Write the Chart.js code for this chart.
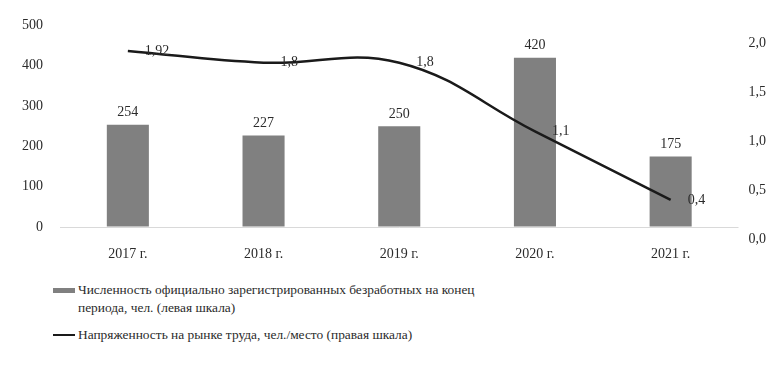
<!DOCTYPE html>
<html lang="ru">
<head>
<meta charset="utf-8">
<title>Безработица и напряженность на рынке труда</title>
<script src="https://cdn.jsdelivr.net/npm/chart.js@4/dist/chart.umd.min.js"></script>
<style>
    html, body { margin: 0; padding: 0; background: #fff; }
    #wrap { position: relative; width: 784px; height: 372px; overflow: hidden; }
    #chartBox { position: absolute; left: 0; top: 0; width: 784px; height: 278px; }
    #legend {
        position: absolute; left: 53px; top: 281px; width: 430px;
        font-family: "Liberation Serif", "DejaVu Serif", serif;
        font-size: 13.4px; line-height: 18px; color: #2b2b2b;
    }
    .item { display: flex; align-items: flex-start; margin-bottom: 9px; }
    .mark { flex: 0 0 22px; margin-top: 7px; margin-right: 3px; }
    .mark.bar { height: 5px; background: #808080; }
    .mark.line { height: 2px; margin-top: 8px; background: #1a1a1a; }
</style>
</head>
<body>
<div id="wrap">
    <div id="chartBox"><canvas id="unemploymentChart"></canvas></div>
    <div id="legend"></div>
</div>
<script>
    // Годы и значения
    const years = ['2017 г.', '2018 г.', '2019 г.', '2020 г.', '2021 г.'];
    const unemployed = [254, 227, 250, 420, 175];
    const tension = [1.92, 1.8, 1.8, 1.1, 0.4];
    const leftTicks = [0, 100, 200, 300, 400, 500];
    const rightTicks = [0, 0.5, 1.0, 1.5, 2.0];

    const barLabel = 'Численность официально зарегистрированных безработных на конец периода, чел. (левая шкала)';
    const lineLabel = 'Напряженность на рынке труда, чел./место (правая шкала)';

    const serif = '"Liberation Serif", "DejaVu Serif", serif';
    const textColor = '#2b2b2b';

    const fmt = v => String(v).replace('.', ',');

    // Подписи значений над столбцами и справа от точек линии
    const valueLabels = {
        id: 'valueLabels',
        afterDatasetsDraw(chart) {
            const ctx = chart.ctx;
            ctx.save();
            ctx.font = '14px ' + serif;
            ctx.fillStyle = textColor;

            chart.getDatasetMeta(1).data.forEach((el, i) => {
                ctx.textAlign = 'center';
                ctx.textBaseline = 'bottom';
                ctx.fillText(unemployed[i], el.x, el.y - 5);
            });

            chart.getDatasetMeta(0).data.forEach((el, i) => {
                ctx.textAlign = 'left';
                ctx.textBaseline = 'middle';
                ctx.fillText(fmt(tension[i]), el.x + 17, el.y);
            });
            ctx.restore();
        }
    };

    const ctx = document.getElementById('unemploymentChart').getContext('2d');
    new Chart(ctx, {
        data: {
            labels: years,
            datasets: [{
                type: 'line',
                label: lineLabel,
                data: tension,
                yAxisID: 'yRight',
                borderColor: '#1a1a1a',
                borderWidth: 2.5,
                pointRadius: 0,
                tension: 0.4,
                fill: false,
                order: 0
            }, {
                type: 'bar',
                label: barLabel,
                data: unemployed,
                yAxisID: 'yLeft',
                backgroundColor: '#808080',
                categoryPercentage: 1,
                barPercentage: 0.31,
                order: 1
            }]
        },
        options: {
            responsive: true,
            maintainAspectRatio: false,
            animation: false,
            layout: { padding: { left: 5, right: 8, top: 24, bottom: 8 } },
            plugins: {
                legend: { display: false },
                tooltip: { enabled: false }
            },
            scales: {
                x: {
                    grid: { display: false, drawTicks: false },
                    border: { display: false },
                    ticks: {
                        padding: 7,
                        color: textColor,
                        font: { family: serif, size: 14 }
                    }
                },
                yLeft: {
                    position: 'left',
                    min: -30,
                    max: 500,
                    afterBuildTicks: axis => { axis.ticks = leftTicks.map(v => ({ value: v })); },
                    grid: {
                        drawTicks: false,
                        color: c => c.tick && c.tick.value === 0 ? '#d9d9d9' : 'rgba(0,0,0,0)'
                    },
                    border: { display: false },
                    ticks: {
                        padding: 17,
                        color: textColor,
                        font: { family: serif, size: 14 }
                    }
                },
                yRight: {
                    position: 'right',
                    min: 0,
                    max: 2.18,
                    afterBuildTicks: axis => { axis.ticks = rightTicks.map(v => ({ value: v })); },
                    grid: { display: false, drawTicks: false },
                    border: { display: false },
                    ticks: {
                        padding: 10,
                        color: textColor,
                        font: { family: serif, size: 14 },
                        callback: v => v.toFixed(1).replace('.', ',')
                    }
                }
            }
        },
        plugins: [valueLabels]
    });

    // Легенда под диаграммой
    const legend = document.getElementById('legend');
    [[barLabel, 'bar'], [lineLabel, 'line']].forEach(([text, kind]) => {
        const item = document.createElement('div');
        item.className = 'item';
        const mark = document.createElement('span');
        mark.className = 'mark ' + kind;
        const label = document.createElement('span');
        label.textContent = text;
        item.appendChild(mark);
        item.appendChild(label);
        legend.appendChild(item);
    });
</script>
</body>
</html>
